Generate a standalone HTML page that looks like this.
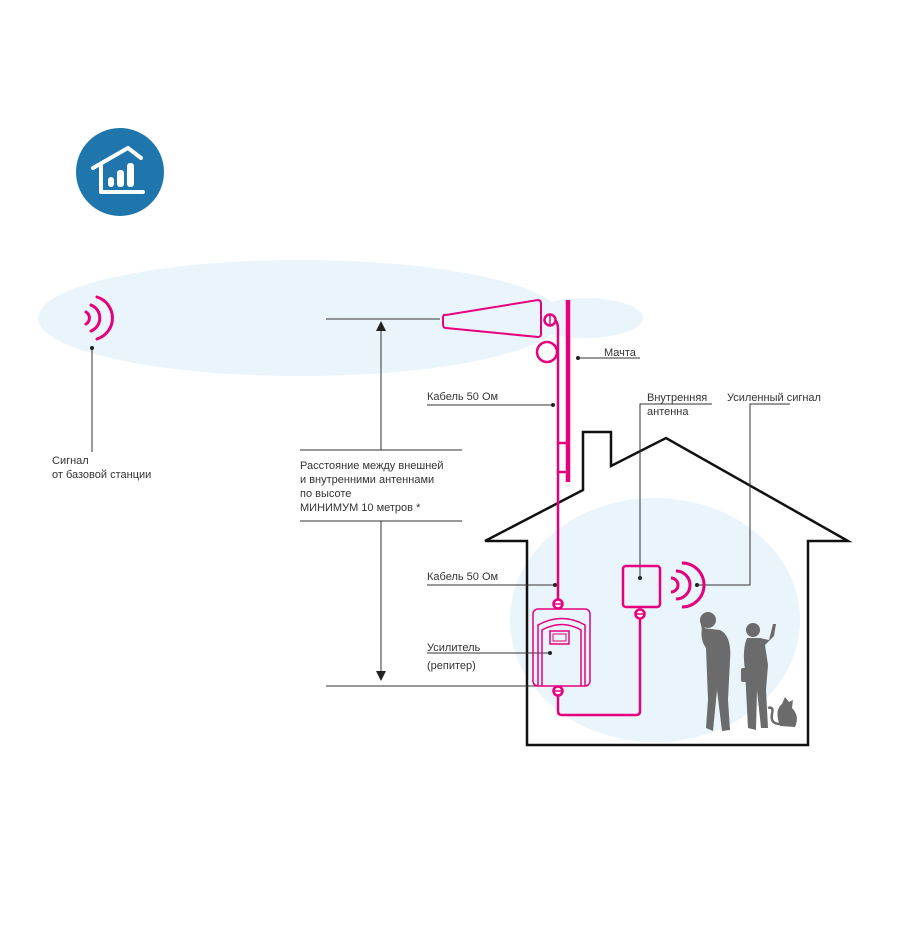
<!DOCTYPE html>
<html><head><meta charset="utf-8"><style>html,body{margin:0;padding:0;background:#fff}svg{display:block}text{font-family:"Liberation Sans",sans-serif;font-size:11px;fill:#333}</style></head><body>
<svg width="900" height="928" viewBox="0 0 900 928" xmlns="http://www.w3.org/2000/svg">
<!-- icon -->
<circle cx="120" cy="172" r="44" fill="#1f76ad"/>
<g stroke="#fff" stroke-width="4" fill="none" stroke-linecap="round" stroke-linejoin="round">
<path d="M93 168 L128 148 L141 158"/>
<path d="M101 165 V192 H143"/>
</g>
<g fill="#fff"><rect x="108" y="177" width="6" height="10" rx="3"/><rect x="117" y="170" width="7" height="17" rx="3"/><rect x="127" y="163" width="7" height="24" rx="3"/></g>
<!-- sky ellipse -->
<ellipse cx="300" cy="318" rx="262" ry="58" fill="#eaf4fb"/>
<ellipse cx="585" cy="318" rx="58" ry="20" fill="#eaf4fb"/>
<!-- house interior -->
<ellipse cx="655" cy="620" rx="145" ry="122" fill="#eaf4fb"/>
<!-- house outline -->
<path d="M527 745 V541 H485 L583 490 V432 H611 V466 L666 438 L848 541 H808 V745 Z" fill="none" stroke="#111" stroke-width="2.5" stroke-linejoin="miter"/>
<!-- left waves -->
<g stroke="#e6007e" stroke-width="3" fill="none" stroke-linecap="round">
<path d="M86 312 A7 7 0 0 1 86 324"/><path d="M91 305 A14 14 0 0 1 91 331"/><path d="M97 297 A22 22 0 0 1 97 339"/>
</g>
<!-- leader lines -->
<g stroke="#333" stroke-width="1" fill="none">
<path d="M92 348 V452"/>
<path d="M326 319 H440"/>
<path d="M326 686 H537"/>
<path d="M300 450 H462 M300 521 H462"/>
<path d="M381 326 V450 M381 521 V674"/>
<path d="M578 358 H640"/>
<path d="M427 405 H553"/>
<path d="M427 585 H555"/>
<path d="M427 653 H550"/>
<path d="M640 578 V404 H712"/>
<path d="M697 585 H750 V404 H790"/>
</g>
<path d="M381 321 L376 331 H386 Z M381 681 L376 671 H386 Z" fill="#222"/>
<g fill="#222"><circle cx="92" cy="348" r="2"/><circle cx="578" cy="358" r="2"/><circle cx="553" cy="405" r="2"/><circle cx="555" cy="585" r="2"/><circle cx="550" cy="653" r="2"/><circle cx="640" cy="578" r="2"/><circle cx="697" cy="585" r="2"/></g>
<!-- magenta -->
<g stroke="#e6007e" fill="none" stroke-width="2.5">
<path d="M446 315 Q443 314 443 318 V324 Q443 328 446 328 L538 337 Q541 337 541 334 V304 Q541 300 538 300 Z" stroke-width="2"/>
<circle cx="550" cy="320" r="5.5" fill="#fff"/>
<path d="M550 314 V326" stroke-width="1.5"/>
<path d="M555 320 Q558 322 558 330 V600"/>
<circle cx="547" cy="352" r="10"/>
<path d="M568 300 V482" stroke-width="4.5"/>
<path d="M558 443 H568 M558 472 H568"/>
<rect x="533" y="609" width="57" height="77" rx="5" stroke-width="1.5"/>
<path d="M538 686 V625 Q562 612 585 625 V686" stroke-width="1.5"/>
<path d="M542 686 V630 Q562 619 581 630 V686" stroke-width="1.5"/>
<rect x="550" y="631" width="19" height="13" stroke-width="1.5"/>
<rect x="553" y="634" width="13" height="7" stroke-width="1"/>
<circle cx="558" cy="604" r="4.5" fill="#fff"/>
<circle cx="558" cy="691" r="4.5" fill="#fff"/>
<path d="M554 604 H562 M554 691 H562" stroke-width="1.5"/>
<path d="M558 696 V711 Q558 715 562 715 H636 Q640 715 640 711 V619"/>
<rect x="623" y="566" width="37" height="41" rx="3"/>
<circle cx="640" cy="614" r="4.5" fill="#fff"/>
<path d="M636 614 H644" stroke-width="1.5"/>
<path d="M671 578 A7 7 0 0 1 671 592" stroke-width="3"/><path d="M676 571 A14 14 0 0 1 676 599" stroke-width="3"/><path d="M682 563 A22 22 0 0 1 682 607" stroke-width="3"/>
</g>
<!-- people -->
<g fill="#6b6b6b">
<circle cx="708" cy="620" r="8"/>
<path d="M702 628 Q700 640 706 648 L708 700 L706 728 L713 731 L717 690 L722 731 L730 730 L728 700 L730 660 Q732 636 720 630 Z"/>
<path d="M700 620 L704 640 L710 636 Z"/>
<circle cx="753" cy="630" r="7"/>
<path d="M747 638 Q742 650 745 670 L748 728 L756 730 L757 690 L761 728 L768 728 L766 690 L768 665 L765 645 L774 636 L776 624 L773 624 L769 640 L760 638 Z"/>
<rect x="741" y="668" width="10" height="14" rx="2"/>
<path d="M780 726 Q774 710 782 704 L785 697 L789 702 L793 700 L792 708 Q800 716 795 727 Z"/>
<path d="M780 724 Q770 724 772 714 Q774 706 768 708" stroke="#6b6b6b" stroke-width="2.5" fill="none"/>
</g>
<!-- text -->
<text x="52" y="464">Сигнал</text>
<text x="52" y="478">от базовой станции</text>
<text x="604" y="356">Мачта</text>
<text x="427" y="400">Кабель 50 Ом</text>
<text x="647" y="401">Внутренняя</text>
<text x="647" y="415">антенна</text>
<text x="727" y="401">Усиленный сигнал</text>
<text x="300" y="469">Расстояние между внешней</text>
<text x="300" y="483">и внутренними антеннами</text>
<text x="300" y="497">по высоте</text>
<text x="300" y="511">МИНИМУМ 10 метров *</text>
<text x="427" y="580">Кабель 50 Ом</text>
<text x="427" y="651">Усилитель</text>
<text x="427" y="669">(репитер)</text>
</svg>
</body></html>
